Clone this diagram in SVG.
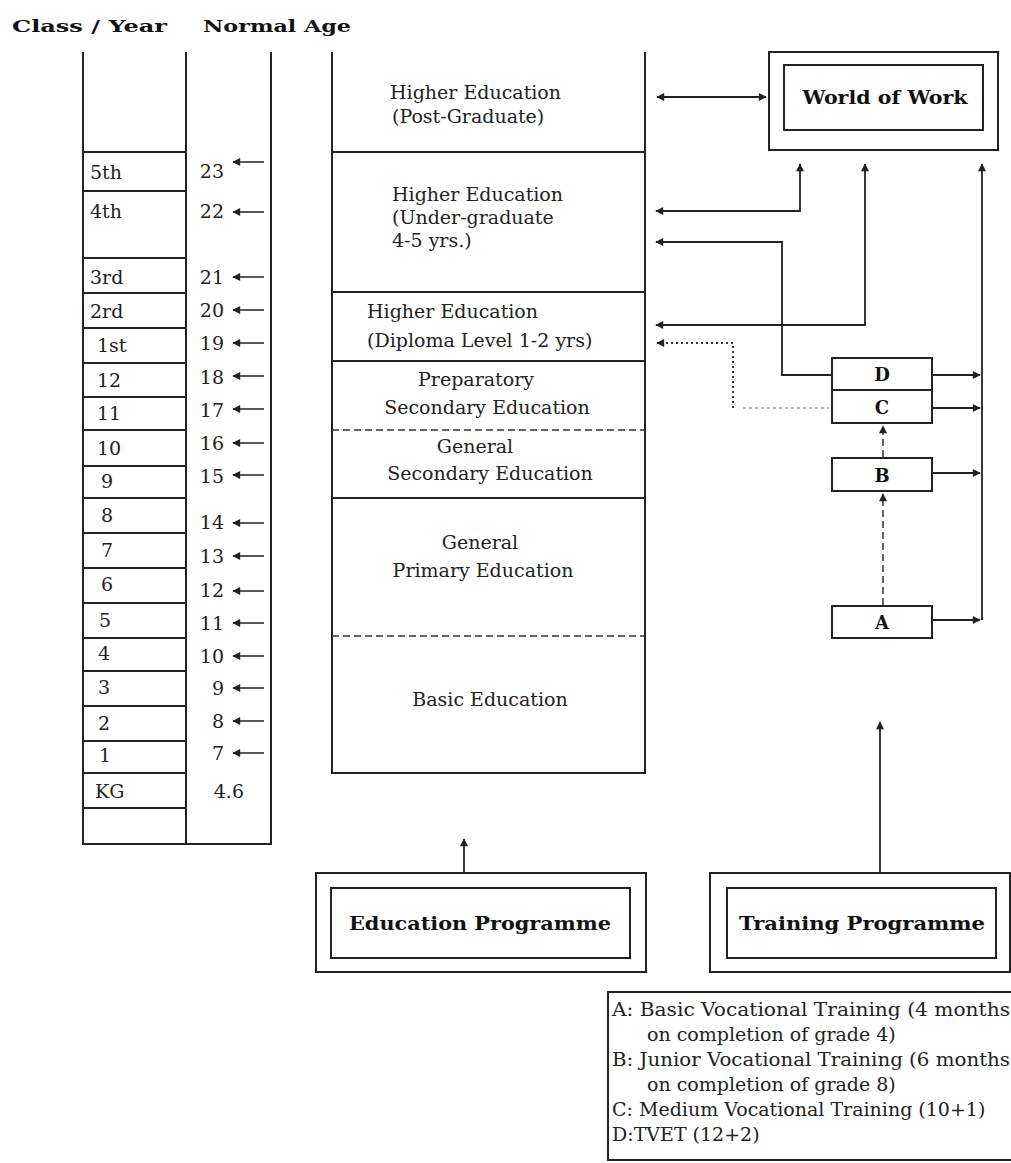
<svg xmlns="http://www.w3.org/2000/svg" width="1011" height="1163" viewBox="0 0 1011 1163">
<style>
.bg{fill:#fff}
.ln{stroke:#222;stroke-width:2;fill:none}
.thin{stroke:#222;stroke-width:1.5;fill:none}
.dash{stroke:#333;stroke-width:1.5;fill:none;stroke-dasharray:7 4}
.dot{stroke:#333;stroke-width:2;fill:none;stroke-dasharray:2 3}
.faint{stroke:#bbb;stroke-width:2;fill:none;stroke-dasharray:3 3}
.box{stroke:#222;stroke-width:2;fill:#fff}
.t{font-family:"DejaVu Serif","Liberation Serif",serif;font-size:19px;fill:#222}
.c{text-anchor:middle}
.e{text-anchor:end}
.b{font-family:"DejaVu Serif","Liberation Serif",serif;font-weight:bold;fill:#111}
.con{stroke:#222;stroke-width:1.8;fill:none}
</style>
<defs>
<marker id="ah" viewBox="0 0 10 10" refX="9" refY="5" markerWidth="9" markerHeight="8" markerUnits="userSpaceOnUse" orient="auto-start-reverse">
<path d="M0,0 L10,5 L0,10 z" fill="#222"/>
</marker>
</defs>
<rect class="bg" x="0" y="0" width="1011" height="1163"/>

<g id="headers">
<text class="b" x="12" y="32" font-size="17" textLength="155" lengthAdjust="spacingAndGlyphs">Class / Year</text>
<text class="b" x="203" y="32" font-size="17" textLength="148" lengthAdjust="spacingAndGlyphs">Normal Age</text>
</g>

<g id="class-table">
<path class="ln" d="M83,52 V844 H271 V52 M186,52 V844"/>
<path class="ln" d="M83,152 H186 M83,191 H186 M83,258 H186 M83,293 H186 M83,328 H186 M83,363 H186 M83,397 H186 M83,430 H186 M83,466 H186 M83,498 H186 M83,533 H186 M83,568 H186 M83,603 H186 M83,638 H186 M83,671 H186 M83,706 H186 M83,741 H186 M83,773 H186 M83,808 H186"/>
<g class="t">
<text x="90" y="179">5th</text>
<text x="90" y="218">4th</text>
<text x="90" y="284">3rd</text>
<text x="90" y="318">2rd</text>
<text x="97" y="352">1st</text>
<text x="97" y="387">12</text>
<text x="97" y="420">11</text>
<text x="97" y="455">10</text>
<text x="101" y="488">9</text>
<text x="101" y="522">8</text>
<text x="101" y="557">7</text>
<text x="101" y="591">6</text>
<text x="99" y="627">5</text>
<text x="98" y="660">4</text>
<text x="98" y="694">3</text>
<text x="98" y="730">2</text>
<text x="99" y="762">1</text>
<text x="95" y="798">KG</text>
</g>
<g class="t e">
<text x="224" y="178">23</text>
<text x="224" y="218">22</text>
<text x="224" y="284">21</text>
<text x="224" y="317">20</text>
<text x="224" y="350">19</text>
<text x="224" y="384">18</text>
<text x="224" y="417">17</text>
<text x="224" y="450">16</text>
<text x="224" y="483">15</text>
<text x="224" y="529">14</text>
<text x="224" y="563">13</text>
<text x="224" y="597">12</text>
<text x="224" y="630">11</text>
<text x="224" y="663">10</text>
<text x="224" y="695">9</text>
<text x="224" y="728">8</text>
<text x="224" y="760">7</text>
<text x="244" y="798">4.6</text>
</g>
<g class="thin" marker-end="url(#ah)">
<path d="M264,162 H233"/>
<path d="M264,212 H233"/>
<path d="M264,277 H233"/>
<path d="M264,310 H233"/>
<path d="M264,343 H233"/>
<path d="M264,376 H233"/>
<path d="M264,409 H233"/>
<path d="M264,443 H233"/>
<path d="M264,475 H233"/>
<path d="M264,523 H233"/>
<path d="M264,556 H233"/>
<path d="M264,591 H233"/>
<path d="M264,623 H233"/>
<path d="M264,656 H233"/>
<path d="M264,688 H233"/>
<path d="M264,721 H233"/>
<path d="M264,753 H233"/>
</g>
</g>

<g id="education-column">
<path class="ln" d="M332,52 V773 H645 V52"/>
<path class="ln" d="M332,152 H645 M332,292 H645 M332,361 H645 M332,498 H645"/>
<path class="dash" d="M332,430 H645 M332,636 H645"/>
<g id="post-graduate" class="t">
<text x="390" y="99">Higher Education</text>
<text x="392" y="123">(Post-Graduate)</text>
</g>
<g id="under-graduate" class="t">
<text x="392" y="201">Higher Education</text>
<text x="392" y="224">(Under-graduate</text>
<text x="392" y="247">4-5 yrs.)</text>
</g>
<g id="diploma" class="t">
<text x="367" y="318">Higher Education</text>
<text x="367" y="347">(Diploma Level 1-2 yrs)</text>
</g>
<g id="preparatory" class="t c">
<text x="476" y="386">Preparatory</text>
<text x="487" y="414">Secondary Education</text>
</g>
<g id="general-secondary" class="t c">
<text x="475" y="453">General</text>
<text x="490" y="480">Secondary Education</text>
</g>
<g id="primary" class="t c">
<text x="480" y="549">General</text>
<text x="483" y="577">Primary Education</text>
</g>
<g id="basic" class="t c">
<text x="490" y="706">Basic Education</text>
</g>
</g>

<g id="world-of-work">
<rect class="box" x="769" y="52" width="229" height="98"/>
<rect class="box" x="784" y="65" width="199" height="65"/>
<text class="b c" x="885" y="104" font-size="19" textLength="165" lengthAdjust="spacingAndGlyphs">World of Work</text>
</g>

<g id="box-D">
<rect class="box" x="832" y="358" width="100" height="32"/>
<text class="b c" x="882" y="381" font-size="18">D</text>
</g>
<g id="box-C">
<rect class="box" x="832" y="390" width="100" height="33"/>
<text class="b c" x="882" y="414" font-size="18">C</text>
</g>
<g id="box-B">
<rect class="box" x="832" y="458" width="100" height="33"/>
<text class="b c" x="882" y="482" font-size="18">B</text>
</g>
<g id="box-A">
<rect class="box" x="832" y="606" width="100" height="32"/>
<text class="b c" x="882" y="629" font-size="18">A</text>
</g>

<g id="education-programme">
<rect class="box" x="316" y="873" width="330" height="99"/>
<rect class="box" x="331" y="888" width="299" height="70"/>
<text class="b c" x="480" y="930" font-size="18" textLength="262" lengthAdjust="spacingAndGlyphs">Education Programme</text>
</g>

<g id="training-programme">
<rect class="box" x="710" y="873" width="300" height="99"/>
<rect class="box" x="727" y="888" width="269" height="70"/>
<text class="b c" x="862" y="930" font-size="18" textLength="246" lengthAdjust="spacingAndGlyphs">Training Programme</text>
</g>

<g id="legend">
<rect class="box" x="608" y="992" width="410" height="168"/>
<g class="t">
<text x="612" y="1016" textLength="398" lengthAdjust="spacingAndGlyphs">A: Basic Vocational Training (4 months</text>
<text x="647" y="1041">on completion of grade 4)</text>
<text x="612" y="1066" textLength="398" lengthAdjust="spacingAndGlyphs">B: Junior Vocational Training (6 months</text>
<text x="647" y="1091">on completion of grade 8)</text>
<text x="612" y="1116">C: Medium Vocational Training (10+1)</text>
<text x="612" y="1141">D:TVET (12+2)</text>
</g>
</g>

<g id="connectors">
<path class="con" d="M657,97 H766" marker-start="url(#ah)" marker-end="url(#ah)"/>
<path class="con" d="M800,164 V211 H656" marker-start="url(#ah)" marker-end="url(#ah)"/>
<path class="con" d="M832,375 H782 V242 H656" marker-end="url(#ah)"/>
<path class="con" d="M865,164 V325 H656" marker-start="url(#ah)" marker-end="url(#ah)"/>
<path class="con" d="M982,620 V164" marker-end="url(#ah)"/>
<path class="con" d="M932,375 H980" marker-end="url(#ah)"/>
<path class="con" d="M932,408 H980" marker-end="url(#ah)"/>
<path class="con" d="M932,473 H980" marker-end="url(#ah)"/>
<path class="con" d="M932,620 H980" marker-end="url(#ah)"/>
<path class="dot" d="M733,408 V343 H662"/>
<path class="con" d="M664,343 H657" marker-end="url(#ah)"/>
<path class="faint" d="M743,408 H829"/>
<path class="dash" d="M883,605 V494" marker-end="url(#ah)"/>
<path class="dash" d="M883,457 V426" marker-end="url(#ah)"/>
<path class="con" d="M464,873 V839" marker-end="url(#ah)"/>
<path class="con" d="M880,873 V722" marker-end="url(#ah)"/>
</g>
</svg>
